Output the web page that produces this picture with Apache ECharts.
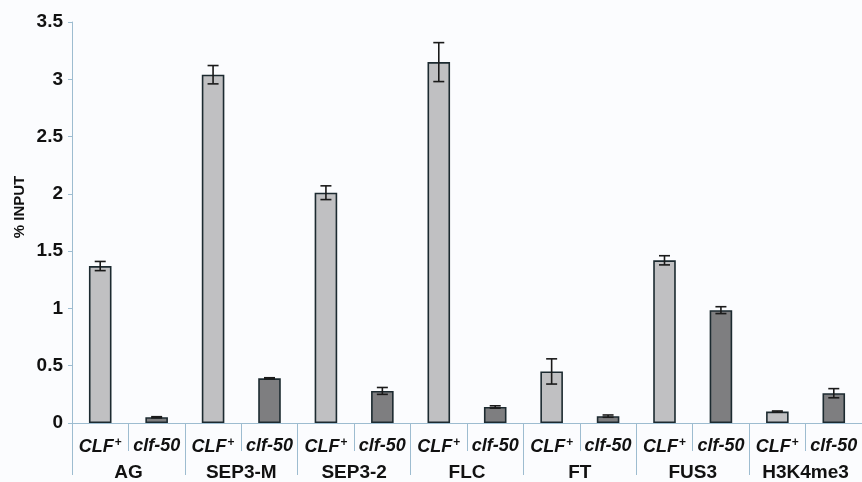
<!DOCTYPE html>
<html>
<head>
<meta charset="utf-8">
<script src="https://cdn.jsdelivr.net/npm/echarts@6/dist/echarts.min.js"></script>
<style>
html,body{margin:0;padding:0;background:#fbfcfe;}
#chart{width:862px;height:482px;}
</style>
</head>
<body>
<div id="chart"></div>
<script>
const groups = ['AG', 'SEP3-M', 'SEP3-2', 'FLC', 'FT', 'FUS3', 'H3K4me3'];
const genotypes = ['CLF+', 'clf-50'];
const clfValues = [1.37, 3.04, 2.01, 3.15, 0.45, 1.42, 0.10];
const clfErrors = [0.04, 0.08, 0.06, 0.17, 0.11, 0.04, 0.005];
const mutValues = [0.05, 0.39, 0.28, 0.14, 0.06, 0.985, 0.26];
const mutErrors = [0.005, 0.005, 0.03, 0.01, 0.01, 0.03, 0.04];
const yTicks = [0, 0.5, 1, 1.5, 2, 2.5, 3, 3.5];

const FONT = 'Liberation Sans';
const TXT = '#111111';
const slots = [];
const barData = [];
const errData = [];
groups.forEach((g, i) => {
  slots.push(genotypes[0]);
  barData.push({ value: clfValues[i], itemStyle: { color: '#c0c0c2' } });
  errData.push([slots.length - 1, clfValues[i], clfErrors[i]]);
  slots.push(genotypes[1]);
  barData.push({ value: mutValues[i], itemStyle: { color: '#7e7e80' } });
  errData.push([slots.length - 1, mutValues[i], mutErrors[i]]);
});

const chart = echarts.init(document.getElementById('chart'));
const axisColor = '#9dbcd0';
chart.setOption({
  backgroundColor: '#fbfcfe',
  animation: false,
  grid: { left: 72, top: 22, width: 793, height: 405, containLabel: false },
  xAxis: [
    {
      type: 'category',
      data: slots,
      position: 'bottom',
      axisLine: { lineStyle: { color: axisColor, width: 1 } },
      axisTick: { show: true, interval: 0, length: 28, lineStyle: { color: axisColor } },
      axisLabel: {
        interval: 0,
        margin: 14,
        formatter: v => v === 'CLF+' ? '{a|CLF}{p|+}' : '{a|' + v + '}',
        rich: {
          a: { fontFamily: FONT, fontWeight: 'bold', fontStyle: 'italic', fontSize: 18, color: TXT },
          p: { fontFamily: FONT, fontWeight: 'bold', fontSize: 12, color: TXT, verticalAlign: 'top', padding: [0, 0, 8, 1] }
        }
      }
    },
    {
      type: 'category',
      data: groups,
      position: 'bottom',
      axisLine: { show: false },
      axisTick: { show: true, interval: 0, length: 52, lineStyle: { color: axisColor } },
      axisLabel: {
        interval: 0,
        margin: 40,
        fontFamily: FONT, fontWeight: 'bold', fontSize: 19, color: TXT
      }
    }
  ],
  yAxis: {
    type: 'value',
    min: yTicks[0],
    max: yTicks[yTicks.length - 1],
    interval: 0.5,
    splitLine: { show: false },
    axisLine: { show: true, lineStyle: { color: axisColor } },
    axisTick: { show: true, length: 4, lineStyle: { color: axisColor } },
    axisLabel: { margin: 9, fontFamily: FONT, fontWeight: 'bold', fontSize: 19, color: TXT }
  },
  graphic: [{
    type: 'text',
    x: 20, y: 207,
    rotation: Math.PI / 2,
    style: { text: '% INPUT', align: 'center', verticalAlign: 'middle', font: 'bold 15px "Liberation Sans"', fill: TXT }
  }],
  series: [
    {
      type: 'bar',
      xAxisIndex: 0,
      data: barData,
      barWidth: '40%',
      itemStyle: { borderColor: '#1c2a30', borderWidth: 1.6 }
    },
    {
      type: 'custom',
      xAxisIndex: 0,
      data: errData,
      z: 10,
      renderItem: function (params, api) {
        const x = api.value(0), v = api.value(1), e = api.value(2);
        const hi = api.coord([x, v + e]);
        const lo = api.coord([x, v - e]);
        const w = 5.5;
        const st = { stroke: '#1a1a1a', lineWidth: 1.6 };
        return {
          type: 'group',
          children: [
            { type: 'line', shape: { x1: hi[0], y1: hi[1], x2: lo[0], y2: lo[1] }, style: st },
            { type: 'line', shape: { x1: hi[0] - w, y1: hi[1], x2: hi[0] + w, y2: hi[1] }, style: st },
            { type: 'line', shape: { x1: lo[0] - w, y1: lo[1], x2: lo[0] + w, y2: lo[1] }, style: st }
          ]
        };
      }
    }
  ]
});
</script>
</body>
</html>
